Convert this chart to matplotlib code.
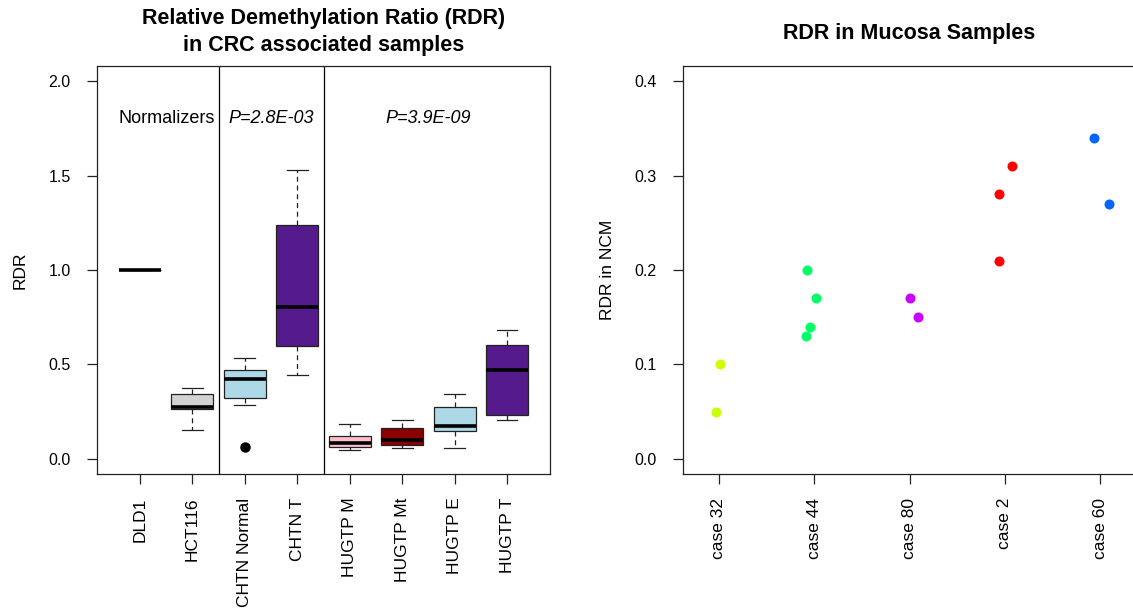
import matplotlib
matplotlib.use("Agg")
import matplotlib.pyplot as plt

plt.rcParams['font.family'] = ['Liberation Sans', 'DejaVu Sans']

# left panel: box statistics
labels = ["DLD1", "HCT116", "CHTN Normal", "CHTN T",
          "HUGTP M", "HUGTP Mt", "HUGTP E", "HUGTP T"]
whislo = [1.0, 0.155, 0.283, 0.445, 0.046, 0.056, 0.056, 0.204]
q1 = [1.0, 0.264, 0.324, 0.600, 0.065, 0.074, 0.146, 0.234]
med = [1.0, 0.273, 0.422, 0.804, 0.086, 0.102, 0.174, 0.471]
q3 = [1.0, 0.343, 0.470, 1.236, 0.123, 0.164, 0.274, 0.603]
whishi = [1.0, 0.373, 0.533, 1.530, 0.183, 0.204, 0.345, 0.682]
fliers = [[], [], [0.065], [], [], [], [], []]
box_colors = ["#FFFFFF", "#D3D3D3", "#ADD8E6", "#551A8B",
              "#FFC0CB", "#8B0000", "#ADD8E6", "#551A8B"]

# right panel: points per case, with small horizontal jitter
cases = ["case 32", "case 44", "case 80", "case 2", "case 60"]
case_colors = ["#CCFF00", "#00FF66", "#CC00FF", "#FF0000", "#0066FF"]
case_values = [[0.05, 0.10],
               [0.20, 0.17, 0.14, 0.13],
               [0.17, 0.15],
               [0.28, 0.31, 0.21],
               [0.34, 0.27]]
case_jitter = [[-0.03, 0.015],
               [-0.07, 0.018, -0.047, -0.087],
               [0.0, 0.084],
               [-0.063, 0.075, -0.063],
               [-0.062, 0.094]]

fig = plt.figure(figsize=(11.33, 6.14), dpi=100)
ax1 = fig.add_axes([97 / 1133, 140 / 614, 453 / 1133, 408 / 614])
ax2 = fig.add_axes([683 / 1133, 140 / 614, 453 / 1133, 408 / 614])

edge = "#222222"
stats = []
for i in range(len(labels)):
    stats.append(dict(whislo=whislo[i], q1=q1[i], med=med[i], q3=q3[i],
                      whishi=whishi[i], fliers=fliers[i]))
pos = list(range(1, len(labels) + 1))
bp = ax1.bxp(stats, positions=pos, widths=0.8, capwidths=0.4,
             patch_artist=True, showfliers=True,
             boxprops=dict(edgecolor=edge, linewidth=0.9),
             whiskerprops=dict(color=edge, linewidth=0.9, linestyle=(0, (4, 3))),
             capprops=dict(color=edge, linewidth=0.9),
             medianprops=dict(color="black", linewidth=2.6, solid_capstyle="butt"),
             flierprops=dict(marker="o", markerfacecolor="black",
                             markeredgecolor="black", markersize=6.5))
for patch, c in zip(bp["boxes"], box_colors):
    patch.set_facecolor(c)

ax1.axvline(2.5, color="black", linewidth=0.9)
ax1.axvline(4.5, color="black", linewidth=0.9)
ax1.text(1.5, 1.8, "Normalizers", ha="center", va="center", fontsize=13)
ax1.text(3.5, 1.8, "P=2.8E-03", ha="center", va="center", fontsize=13, style="italic")
ax1.text(6.5, 1.8, "P=3.9E-09", ha="center", va="center", fontsize=13, style="italic")

ax1.set_xlim(0.18, 8.82)
ax1.set_ylim(-0.08, 2.08)
ax1.set_yticks([0.0, 0.5, 1.0, 1.5, 2.0])
ax1.set_yticklabels(["0.0", "0.5", "1.0", "1.5", "2.0"])
ax1.set_xticks(pos)
ax1.set_xticklabels(labels, rotation=90)
ax1.set_ylabel("RDR", fontsize=12.5, labelpad=15)

for k in range(len(cases)):
    xs = [k + 1 + j for j in case_jitter[k]]
    ax2.plot(xs, case_values[k], "o", color=case_colors[k], markersize=7.2,
             markeredgewidth=0)
ax2.set_xlim(0.625, 5.375)
ax2.set_ylim(-0.016, 0.416)
ax2.set_yticks([0.0, 0.1, 0.2, 0.3, 0.4])
ax2.set_yticklabels(["0.0", "0.1", "0.2", "0.3", "0.4"])
ax2.set_xticks(range(1, len(cases) + 1))
ax2.set_xticklabels(cases, rotation=90)
ax2.set_ylabel("RDR in NCM", fontsize=12.5, labelpad=14)

for ax in (ax1, ax2):
    for s in ax.spines.values():
        s.set_color(edge)
        s.set_linewidth(0.9)
    ax.tick_params(axis="y", length=7, width=0.9, color=edge, pad=12, labelsize=11.5)
    ax.tick_params(axis="x", length=7, width=0.9, color=edge, pad=10, labelsize=12.5)

fig.text(323.5 / 1133, 1 - 32 / 614,
         "Relative Demethylation Ratio (RDR)\nin CRC associated samples",
         ha="center", va="center", fontsize=15.5, fontweight="bold", linespacing=1.38)
fig.text(909 / 1133, 1 - 33 / 614, "RDR in Mucosa Samples",
         ha="center", va="center", fontsize=15.5, fontweight="bold")

fig.savefig("out.png", dpi=100)
